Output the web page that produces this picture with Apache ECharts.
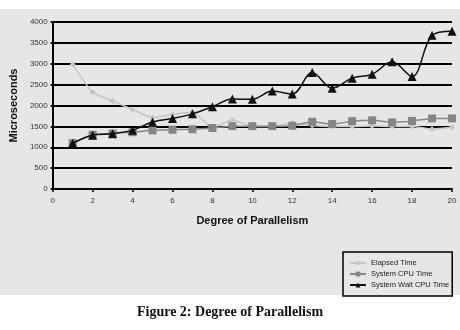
<!DOCTYPE html>
<html><head><meta charset="utf-8">
<script src="https://cdn.jsdelivr.net/npm/echarts@6/dist/echarts.min.js"></script>
<style>html,body{margin:0;padding:0;background:#fff}#c{width:460px;height:330px}</style>
</head><body><div id="c"></div>
<script>
const degrees = [1,2,3,4,5,6,7,8,9,10,11,12,13,14,15,16,17,18,19,20];
const elapsedTime = [2985,2320,2110,1905,1715,1785,1840,1470,1650,1500,1500,1580,1520,1500,1500,1510,1500,1500,1440,1480];
const systemCpuTime = [1100,1300,1330,1360,1405,1420,1430,1460,1505,1505,1505,1515,1610,1555,1625,1645,1595,1630,1690,1690];
const systemWaitCpuTime = [1095,1290,1325,1410,1605,1690,1800,1970,2155,2150,2345,2275,2790,2415,2655,2750,3045,2695,3680,3780];
const xTicks = [0,2,4,6,8,10,12,14,16,18,20];
const yTicks = [0,500,1000,1500,2000,2500,3000,3500,4000];

const pairs = arr => degrees.map((d,i)=>[d,arr[i]]);
const chart = echarts.init(document.getElementById('c'));
chart.setOption({
  animation:false,
  backgroundColor:'#ffffff',
  graphic:[{type:'rect',z:-10,shape:{x:0,y:9,width:460,height:286},style:{fill:'#e6e6e6'}}],
  title:{text:'Figure 2: Degree of Parallelism',left:'center',top:300,
    textStyle:{fontFamily:'Liberation Serif',fontWeight:'bold',fontSize:14,color:'#111'}},
  grid:{left:50,right:8,top:22,bottom:141},
  xAxis:{type:'value',min:0,max:20,interval:2,
    name:'Degree of Parallelism',nameLocation:'middle',nameGap:26,
    nameTextStyle:{fontFamily:'Liberation Sans',fontWeight:'bold',fontSize:11,color:'#111'},
    axisLine:{show:true,lineStyle:{color:'#000',width:2}},
    axisTick:{show:true,length:3,lineStyle:{color:'#000',width:1.5}},
    axisLabel:{fontFamily:'Liberation Sans',fontSize:8,color:'#333',margin:8,
      formatter:v=>xTicks.includes(v)?String(v):''},
    splitLine:{show:false}},
  yAxis:{type:'value',min:0,max:4000,interval:500,
    name:'Microseconds',nameLocation:'middle',nameGap:31,nameRotate:90,
    nameTextStyle:{fontFamily:'Liberation Sans',fontWeight:'bold',fontSize:11,color:'#111'},
    axisLine:{show:true,lineStyle:{color:'#000',width:2}},
    axisTick:{show:true,length:2,lineStyle:{color:'#000',width:2}},
    axisLabel:{fontFamily:'Liberation Sans',fontSize:8,color:'#333',margin:5,
      formatter:v=>yTicks.includes(v)?String(v):''},
    splitLine:{show:true,lineStyle:{color:'#000',width:2}}},
  legend:{orient:'vertical',left:343,top:252,
    backgroundColor:'#e6e6e6',borderColor:'#000',borderWidth:1.5,
    padding:[6,3,6,6],itemGap:1,itemWidth:16,itemHeight:6,
    textStyle:{fontFamily:'Liberation Sans',fontSize:7.5,lineHeight:10,color:'#222'},
    data:['Elapsed Time','System CPU Time','System Wait CPU Time']},
  series:[
    {name:'Elapsed Time',type:'line',data:pairs(elapsedTime),smooth:0.2,
      symbol:'diamond',symbolSize:6,z:2,
      lineStyle:{color:'#c4c4c4',width:1.5},itemStyle:{color:'#c4c4c4'}},
    {name:'System CPU Time',type:'line',data:pairs(systemCpuTime),smooth:0.2,
      symbol:'rect',symbolSize:8,z:3,
      lineStyle:{color:'#888',width:1.5},itemStyle:{color:'#858585'}},
    {name:'System Wait CPU Time',type:'line',data:pairs(systemWaitCpuTime),smooth:0.35,
      symbol:'triangle',symbolSize:9,z:4,
      lineStyle:{color:'#111',width:1.5},itemStyle:{color:'#111'}}
  ]
});
</script></body></html>
